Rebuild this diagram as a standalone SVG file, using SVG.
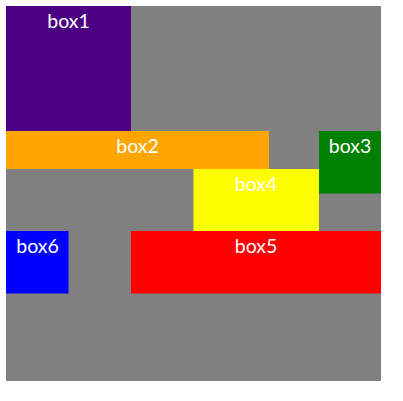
<svg xmlns="http://www.w3.org/2000/svg" width="403" height="401" viewBox="0 0 403 401">
<style>
text{font-family:Lato,"Open Sans","Liberation Sans",sans-serif;font-size:19.5px;fill:#ffffff;text-anchor:middle}
</style>
<rect width="403" height="401" fill="#ffffff"/>
<rect id="bg" x="6" y="6" width="375" height="375" fill="#808080"/>
<g id="box1"><rect x="6" y="6" width="125" height="125" fill="#4b0082"/><text x="68.5" y="28">box1</text></g>
<g id="box2"><rect x="6" y="131" width="263" height="38" fill="#ffa500"/><text x="137.5" y="153">box2</text></g>
<g id="box3"><rect x="319" y="131" width="62" height="62.5" fill="#008000"/><text x="350" y="153">box3</text></g>
<g id="box4"><rect x="193.5" y="169" width="125.5" height="62" fill="#ffff00"/><text x="256" y="191">box4</text></g>
<g id="box5"><rect x="131" y="231" width="250" height="62.5" fill="#ff0000"/><text x="256" y="253">box5</text></g>
<g id="box6"><rect x="6" y="231" width="62.5" height="62.5" fill="#0000ff"/><text x="37.5" y="253">box6</text></g>
<g id="connectors"></g>
</svg>
